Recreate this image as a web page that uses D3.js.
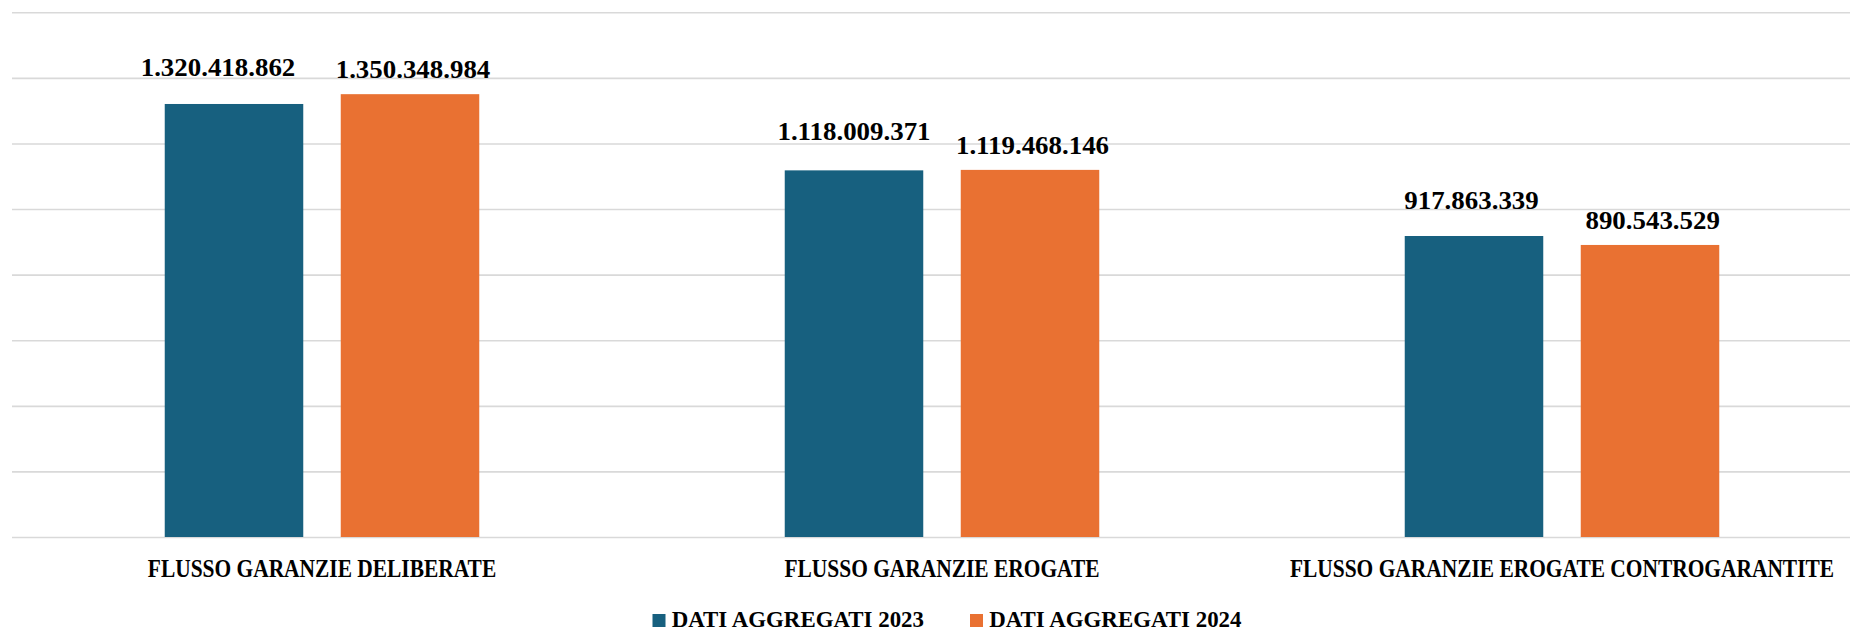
<!DOCTYPE html>
<html>
<head>
<meta charset="utf-8">
<script src="https://cdn.jsdelivr.net/npm/d3@7"></script>
<style>
  html, body { margin: 0; padding: 0; background: #ffffff; }
  svg { display: block; }
  text { font-family: "Liberation Serif", "Times New Roman", serif; font-weight: bold; fill: #000; }
</style>
</head>
<body>
<svg id="chart" width="1850" height="631"></svg>
<script>
// ---- data ----
const categories = ["FLUSSO GARANZIE DELIBERATE", "FLUSSO GARANZIE EROGATE", "FLUSSO GARANZIE EROGATE CONTROGARANTITE"];
const seriesNames = ["DATI AGGREGATI 2023", "DATI AGGREGATI 2024"];
const values2023 = [1320418862, 1118009371, 917863339];
const values2024 = [1350348984, 1119468146, 890543529];
const valueLabels2023 = ["1.320.418.862", "1.118.009.371", "917.863.339"];
const valueLabels2024 = ["1.350.348.984", "1.119.468.146", "890.543.529"];
const gridTicks = [0, 200000000, 400000000, 600000000, 800000000, 1000000000, 1200000000, 1400000000, 1600000000];

// ---- style / layout ----
const colors = ["#17607f", "#e97132"];
const W = 1850, H = 631;
const plot = { left: 12, right: 1872, top: 12.3, bottom: 537 };
// manual label nudges (dx, gap above bar) as in reference
const labelDx = [[-16, 0, -2.5], [3, 2.5, 2.7]];
const labelGap = [[28, 30.5, 27], [16.2, 15.7, 16.1]];

const svg = d3.select("#chart");
svg.append("rect").attr("width", W).attr("height", H).attr("fill", "#fff");

const y = d3.scaleLinear().domain([0, 1600000000]).range([plot.bottom, plot.top]);
const x0 = d3.scaleBand().domain(categories).range([plot.left, plot.right])
  .paddingInner(0.4927).paddingOuter(0.4927 / 2);
const x1 = d3.scaleBand().domain(seriesNames).range([0, x0.bandwidth()])
  .paddingInner(0.213).paddingOuter(0);

// gridlines
const grid = svg.append("g").attr("transform", `translate(${plot.left},0)`)
  .call(d3.axisLeft(y).tickValues(gridTicks).tickSize(-(W - plot.left)).tickFormat(""));
grid.select(".domain").remove();
grid.selectAll(".tick line").attr("stroke", "#d9d9d9").attr("stroke-width", 1.6);

// bars
const seriesData = [values2023, values2024];
const labelData = [valueLabels2023, valueLabels2024];
seriesNames.forEach((s, si) => {
  const g = svg.append("g");
  g.selectAll("rect").data(categories).join("rect")
    .attr("x", c => x0(c) + x1(s))
    .attr("y", (c, i) => y(seriesData[si][i]))
    .attr("width", x1.bandwidth())
    .attr("height", (c, i) => y(0) - y(seriesData[si][i]))
    .attr("fill", colors[si]);
  g.selectAll("text").data(categories).join("text")
    .attr("text-anchor", "middle")
    .attr("font-size", 26)
    .attr("transform", (c, i) => `translate(${x0(c) + x1(s) + x1.bandwidth() / 2 + labelDx[si][i]},${y(seriesData[si][i]) - labelGap[si][i]}) scale(1.035,1)`)
    .text((c, i) => labelData[si][i]);
});

// category labels
svg.append("g").selectAll("text").data(categories).join("text")
  .attr("text-anchor", "middle")
  .attr("font-size", 24.5)
  .attr("transform", c => `translate(${x0(c) + x0.bandwidth() / 2},576.9) scale(0.875,1)`)
  .text(c => c);

// legend
const legendX = [652.5, 970];
const leg = svg.append("g");
seriesNames.forEach((s, si) => {
  leg.append("rect").attr("x", legendX[si]).attr("y", 614).attr("width", 13).attr("height", 13).attr("fill", colors[si]);
  leg.append("text").attr("font-size", 23.5)
    .attr("transform", `translate(${legendX[si] + 19.2},627.3) scale(0.975,1)`)
    .text(s);
});
</script>
</body>
</html>
